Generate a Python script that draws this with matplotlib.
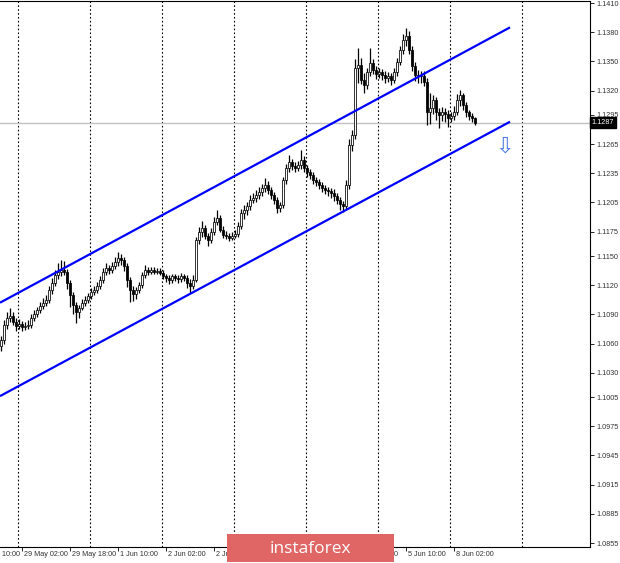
import matplotlib
matplotlib.use("Agg")
import matplotlib.pyplot as plt
from matplotlib.patches import Rectangle
from matplotlib.transforms import blended_transform_factory
import numpy as np

# ---------------- data (EURUSD H1) ----------------
opens = [
    1.1058, 1.1064, 1.1079, 1.1086, 1.1088, 1.1082, 1.1078, 1.1080, 1.1077, 1.1078,
    1.1079, 1.1086, 1.1090, 1.1094, 1.1099, 1.1102, 1.1105, 1.1115, 1.1122, 1.1130,
    1.1134, 1.1136, 1.1134, 1.1122, 1.1110, 1.1100, 1.1092, 1.1097, 1.1102, 1.1105,
    1.1109, 1.1113, 1.1115, 1.1119, 1.1125, 1.1134, 1.1138, 1.1136, 1.1140, 1.1144,
    1.1148, 1.1146, 1.1140, 1.1125, 1.1115, 1.1111, 1.1115, 1.1120, 1.1130, 1.1136,
    1.1134, 1.1136, 1.1134, 1.1135, 1.1133, 1.1129, 1.1127, 1.1125, 1.1129, 1.1127,
    1.1126, 1.1129, 1.1127, 1.1122, 1.1119, 1.1125, 1.1166, 1.1175, 1.1179, 1.1171,
    1.1166, 1.1175, 1.1185, 1.1189, 1.1177, 1.1172, 1.1171, 1.1169, 1.1171, 1.1173,
    1.1181, 1.1194, 1.1197, 1.1201, 1.1208, 1.1210, 1.1213, 1.1216, 1.1220, 1.1223,
    1.1218, 1.1213, 1.1208, 1.1199, 1.1202, 1.1228, 1.1240, 1.1247, 1.1243, 1.1240,
    1.1244, 1.1249, 1.1240, 1.1236, 1.1233, 1.1228, 1.1226, 1.1223, 1.1220, 1.1218,
    1.1217, 1.1215, 1.1212, 1.1208, 1.1203, 1.1201, 1.1223, 1.1264, 1.1274, 1.1343,
    1.1346, 1.1331, 1.1326, 1.1339, 1.1348, 1.1341, 1.1337, 1.1339, 1.1336, 1.1333,
    1.1335, 1.1331, 1.1339, 1.1349, 1.1362, 1.1372, 1.1376, 1.1362, 1.1345, 1.1336,
    1.1335, 1.1335, 1.1329, 1.1298, 1.1302, 1.1310, 1.1298, 1.1295, 1.1298, 1.1296,
    1.1292, 1.1294, 1.1298, 1.1310, 1.1315, 1.1305, 1.1298, 1.1294, 1.1292,
]
highs = [
    1.1068, 1.1084, 1.1092, 1.1097, 1.1092, 1.1086, 1.1085, 1.1083, 1.1082, 1.1084,
    1.1090, 1.1094, 1.1098, 1.1103, 1.1107, 1.1110, 1.1119, 1.1127, 1.1136, 1.1143,
    1.1146, 1.1145, 1.1137, 1.1125, 1.1113, 1.1103, 1.1100, 1.1106, 1.1109, 1.1112,
    1.1117, 1.1119, 1.1123, 1.1129, 1.1138, 1.1143, 1.1141, 1.1144, 1.1149, 1.1154,
    1.1152, 1.1149, 1.1143, 1.1128, 1.1119, 1.1118, 1.1123, 1.1134, 1.1141, 1.1139,
    1.1139, 1.1139, 1.1138, 1.1138, 1.1136, 1.1132, 1.1130, 1.1132, 1.1132, 1.1130,
    1.1133, 1.1132, 1.1130, 1.1126, 1.1130, 1.1170, 1.1180, 1.1186, 1.1182, 1.1174,
    1.1179, 1.1190, 1.1197, 1.1192, 1.1181, 1.1176, 1.1174, 1.1175, 1.1177, 1.1185,
    1.1198, 1.1202, 1.1206, 1.1213, 1.1215, 1.1218, 1.1221, 1.1224, 1.1230, 1.1227,
    1.1221, 1.1216, 1.1211, 1.1206, 1.1231, 1.1245, 1.1254, 1.1250, 1.1247, 1.1248,
    1.1259, 1.1253, 1.1244, 1.1239, 1.1236, 1.1231, 1.1229, 1.1226, 1.1223, 1.1221,
    1.1220, 1.1219, 1.1215, 1.1211, 1.1207, 1.1228, 1.1270, 1.1280, 1.1352, 1.1364,
    1.1353, 1.1338, 1.1343, 1.1364, 1.1352, 1.1345, 1.1343, 1.1342, 1.1340, 1.1339,
    1.1338, 1.1343, 1.1353, 1.1366, 1.1378, 1.1384, 1.1381, 1.1366, 1.1349, 1.1341,
    1.1340, 1.1340, 1.1333, 1.1318, 1.1315, 1.1313, 1.1302, 1.1303, 1.1302, 1.1300,
    1.1298, 1.1304, 1.1316, 1.1321, 1.1318, 1.1308, 1.1300, 1.1297, 1.1293,
]
lows = [
    1.1052, 1.1060, 1.1075, 1.1082, 1.1079, 1.1073, 1.1075, 1.1073, 1.1074, 1.1075,
    1.1076, 1.1083, 1.1087, 1.1091, 1.1096, 1.1099, 1.1102, 1.1111, 1.1119, 1.1126,
    1.1129, 1.1130, 1.1116, 1.1098, 1.1090, 1.1081, 1.1086, 1.1094, 1.1099, 1.1102,
    1.1106, 1.1110, 1.1112, 1.1116, 1.1122, 1.1130, 1.1132, 1.1133, 1.1137, 1.1140,
    1.1141, 1.1135, 1.1118, 1.1103, 1.1104, 1.1106, 1.1112, 1.1117, 1.1127, 1.1130,
    1.1131, 1.1131, 1.1131, 1.1130, 1.1126, 1.1123, 1.1121, 1.1122, 1.1124, 1.1122,
    1.1123, 1.1124, 1.1117, 1.1112, 1.1116, 1.1123, 1.1162, 1.1170, 1.1167, 1.1160,
    1.1163, 1.1172, 1.1182, 1.1175, 1.1168, 1.1167, 1.1165, 1.1166, 1.1168, 1.1170,
    1.1178, 1.1188, 1.1192, 1.1197, 1.1204, 1.1205, 1.1209, 1.1212, 1.1216, 1.1214,
    1.1209, 1.1203, 1.1194, 1.1195, 1.1199, 1.1224, 1.1236, 1.1238, 1.1236, 1.1237,
    1.1239, 1.1236, 1.1231, 1.1229, 1.1224, 1.1222, 1.1219, 1.1216, 1.1214, 1.1212,
    1.1210, 1.1207, 1.1203, 1.1197, 1.1195, 1.1198, 1.1219, 1.1258, 1.1270, 1.1328,
    1.1327, 1.1318, 1.1322, 1.1335, 1.1337, 1.1332, 1.1333, 1.1331, 1.1328, 1.1329,
    1.1326, 1.1328, 1.1335, 1.1346, 1.1358, 1.1366, 1.1358, 1.1340, 1.1330, 1.1328,
    1.1328, 1.1325, 1.1285, 1.1286, 1.1296, 1.1290, 1.1282, 1.1289, 1.1288, 1.1283,
    1.1288, 1.1290, 1.1295, 1.1304, 1.1300, 1.1293, 1.1290, 1.1288, 1.1285,
]
closes = [
    1.1064, 1.1079, 1.1086, 1.1088, 1.1082, 1.1078, 1.1080, 1.1077, 1.1078, 1.1079,
    1.1086, 1.1090, 1.1094, 1.1099, 1.1102, 1.1105, 1.1115, 1.1122, 1.1130, 1.1134,
    1.1136, 1.1134, 1.1122, 1.1110, 1.1100, 1.1092, 1.1097, 1.1102, 1.1105, 1.1109,
    1.1113, 1.1115, 1.1119, 1.1125, 1.1134, 1.1138, 1.1136, 1.1140, 1.1144, 1.1148,
    1.1146, 1.1140, 1.1125, 1.1115, 1.1111, 1.1115, 1.1120, 1.1130, 1.1136, 1.1134,
    1.1136, 1.1134, 1.1135, 1.1133, 1.1129, 1.1127, 1.1125, 1.1129, 1.1127, 1.1126,
    1.1129, 1.1127, 1.1122, 1.1119, 1.1125, 1.1166, 1.1175, 1.1179, 1.1171, 1.1166,
    1.1175, 1.1185, 1.1189, 1.1177, 1.1172, 1.1171, 1.1169, 1.1171, 1.1173, 1.1181,
    1.1194, 1.1197, 1.1201, 1.1208, 1.1210, 1.1213, 1.1216, 1.1220, 1.1223, 1.1218,
    1.1213, 1.1208, 1.1199, 1.1202, 1.1228, 1.1240, 1.1247, 1.1243, 1.1240, 1.1244,
    1.1249, 1.1240, 1.1236, 1.1233, 1.1228, 1.1226, 1.1223, 1.1220, 1.1218, 1.1217,
    1.1215, 1.1212, 1.1208, 1.1203, 1.1201, 1.1223, 1.1264, 1.1274, 1.1343, 1.1346,
    1.1331, 1.1326, 1.1339, 1.1348, 1.1341, 1.1337, 1.1339, 1.1336, 1.1333, 1.1335,
    1.1331, 1.1339, 1.1349, 1.1362, 1.1372, 1.1376, 1.1362, 1.1345, 1.1336, 1.1335,
    1.1335, 1.1329, 1.1298, 1.1302, 1.1310, 1.1298, 1.1295, 1.1298, 1.1296, 1.1292,
    1.1294, 1.1298, 1.1310, 1.1315, 1.1305, 1.1298, 1.1294, 1.1292, 1.1287,
]

current_price = 1.1287

y_ticks = [1.1410, 1.1380, 1.1350, 1.1320, 1.1295, 1.1265, 1.1235, 1.1205,
           1.1175, 1.1150, 1.1120, 1.1090, 1.1060, 1.1030, 1.1005, 1.0975,
           1.0945, 1.0915, 1.0885, 1.0855]

# date labels visible in the reference (others are hidden behind the watermark)
date_labels = ["28 May 10:00", "29 May 02:00", "29 May 18:00", "1 Jun 10:00",
               "2 Jun 02:00", "2 Jun 18:00", "4 Jun 18:00", "5 Jun 10:00",
               "8 Jun 02:00"]
date_bars = [-9, 7, 23, 39, 55, 71, 119, 135, 151]

# channel lines: (bar, price) endpoints
upper_x = [-0.33, 169.67]
upper_y = [1.1102, 1.1385]
lower_x = [-0.33, 169.67]
lower_y = [1.1006, 1.1288]

arrow_bar, arrow_price = 167.7, 1.1263

# ---------------- figure ----------------
W, H = 620, 563
fig = plt.figure(figsize=(W / 100, H / 100), dpi=100)
fig.patch.set_facecolor("white")
ax = fig.add_axes([0, 16 / H, 590 / W, 546 / H])
ax.set_facecolor("white")

n = len(closes)
x = np.arange(n)
o = np.array(opens); h = np.array(highs); l = np.array(lows); c = np.array(closes)

# vertical dotted grid
for gx in np.arange(5.67, 200, 24):
    ax.axvline(gx, color="black", lw=0.8, ls=(0, (1.5, 2.0)), zorder=1)

# current price line
ax.axhline(current_price, color="#c0c0c0", lw=1.0, zorder=1.5)

# wicks
ax.vlines(x, l, h, color="black", lw=0.9, zorder=2)
# bodies
bw = 0.7
up = c >= o
bottoms = np.minimum(o, c)
heights = np.maximum(np.abs(c - o), 0.00008)
ax.bar(x[up], heights[up], bottom=bottoms[up], width=bw, facecolor="white",
       edgecolor="black", linewidth=0.55, zorder=3)
ax.bar(x[~up], heights[~up], bottom=bottoms[~up], width=bw, facecolor="black",
       edgecolor="black", linewidth=0.55, zorder=3)

# channel
ax.plot(upper_x, upper_y, color="#0000ff", lw=1.6, zorder=4, solid_capstyle="butt")
ax.plot(lower_x, lower_y, color="#0000ff", lw=1.6, zorder=4, solid_capstyle="butt")

# arrow
ax.text(arrow_bar, arrow_price, "\u21e9", color="#4f7be6", fontsize=16,
        ha="center", va="center", family="DejaVu Sans", zorder=5)

ax.set_xlim(-1 / 3, 196.33)
ax.set_ylim(1.08509, 1.14121)

# spines
ax.spines["left"].set_visible(False)
for s in ("top", "right", "bottom"):
    ax.spines[s].set_color("black")
    ax.spines[s].set_linewidth(0.8)

# y axis on right
ax.yaxis.tick_right()
ax.set_yticks(y_ticks)
ax.set_yticklabels([f"{v:.4f}" for v in y_ticks], fontsize=5.2,
                   family="Liberation Sans", color="#333333")
ax.tick_params(axis="y", direction="out", length=3, width=0.6, pad=1.5)

# x ticks (marks only), labels as text
ax.set_xticks([b for b in date_bars if b >= 0])
ax.set_xticklabels([])
ax.tick_params(axis="x", direction="out", length=3, width=0.6)
trans = blended_transform_factory(ax.transData, ax.transAxes)
for b, lab in zip(date_bars, date_labels):
    ax.text(b + 0.6, -0.008, lab, transform=trans, ha="left", va="top",
            fontsize=5.2, family="Liberation Sans", color="#333333", clip_on=False)

# current price tag
ax.text(1.003, current_price, "1.1287",
        transform=blended_transform_factory(ax.transAxes, ax.transData),
        ha="left", va="center", fontsize=5.2, family="Liberation Sans", color="white",
        bbox=dict(boxstyle="square,pad=0.25", facecolor="black", edgecolor="black"),
        clip_on=False, zorder=10)

# watermark
fig.patches.append(Rectangle((227 / W, 1 / H), 167 / W, 28 / H, transform=fig.transFigure,
                             facecolor="#e06565", edgecolor="none", zorder=20))
fig.text(310 / W, 14 / H, "instaforex", color="white", fontsize=12.5,
         family="Open Sans", ha="center", va="center", zorder=21)

fig.savefig("out.png", dpi=100, facecolor="white")
